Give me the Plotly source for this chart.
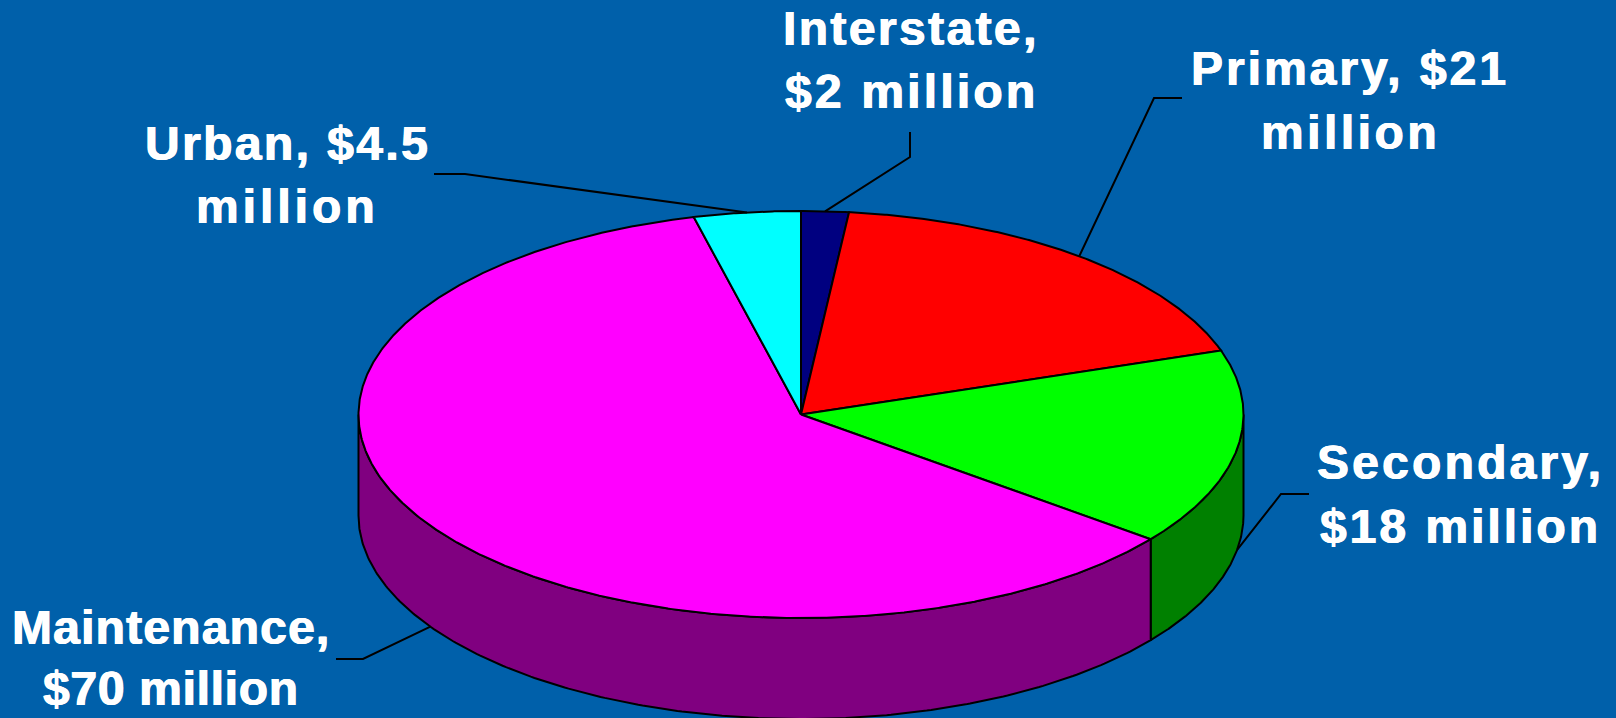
import numpy as np
import plotly.graph_objects as go

# ---- data ----
categories = ["Interstate", "Primary", "Secondary", "Maintenance", "Urban"]
values = [2, 21, 18, 70, 4.5]
label_lines = [
    ["Interstate,", "$2 million"],
    ["Primary, $21", "million"],
    ["Secondary,", "$18 million"],
    ["Maintenance,", "$70 million"],
    ["Urban, $4.5", "million"],
]

# ---- styles ----
top_colors = ["#000080", "#FF0000", "#00FF00", "#FF00FF", "#00FFFF"]
side_colors = ["#000040", "#800000", "#008000", "#800080", "#008080"]
BG = "#0060AA"
CX, CY, RX, RY, DEPTH = 801.0, 414.5, 442.5, 203.5, 101.0
FONT_SIZE = 48
LINE_W = 2.0
letter_spacing = [(2.4, 3.2), (3.0, 3.5), (3.2, 3.0), (1.2, 0.7), (2.4, 4.0)]

# ---- layout of labels (page pixels) ----
label_cx = [911, 1350, 1460, 171, 287]
label_base = [(45, 108), (85, 149), (479, 543), (644, 705), (160, 223)]
elbows = [
    [(910, 132), (910, 157)],
    [(1182, 98), (1154, 98)],
    [(1309, 494), (1281, 494)],
    [(336, 659), (363, 659)],
    [(434, 174), (465, 174)],
]
anchor_on_bottom = [False, False, True, True, False]


def pt(theta, dz=0.0):
    return CX + RX * np.sin(theta), CY - RY * np.cos(theta) + dz


total = sum(values)
edges = np.concatenate([[0.0], np.cumsum(values)]) / total * 2 * np.pi
fig = go.Figure()


def poly(xs, ys, fill):
    fig.add_trace(go.Scatter(x=xs, y=ys, mode="lines", fill="toself", fillcolor=fill,
                             line=dict(color="black", width=LINE_W), hoverinfo="skip",
                             showlegend=False))


# side walls (only the front half of the rim is visible)
for i, c in enumerate(categories):
    a, b = max(edges[i], np.pi / 2), min(edges[i + 1], 3 * np.pi / 2)
    if b <= a:
        continue
    t = np.linspace(a, b, 240)
    x1, y1 = pt(t)
    x2, y2 = pt(t[::-1], DEPTH)
    poly(np.r_[x1, x2, x1[0]], np.r_[y1, y2, y1[0]], side_colors[i])

# top slices
for i, c in enumerate(categories):
    t = np.linspace(edges[i], edges[i + 1], max(8, int(values[i] * 12)))
    x, y = pt(t)
    poly(np.r_[CX, x, CX], np.r_[CY, y, CY], top_colors[i])

# leader lines, anchored at each slice's middle angle
for i, c in enumerate(categories):
    mid = (edges[i] + edges[i + 1]) / 2
    ax, ay = pt(mid, DEPTH if anchor_on_bottom[i] else 0.0)
    xs = [p[0] for p in elbows[i]] + [ax]
    ys = [p[1] for p in elbows[i]] + [ay]
    fig.add_trace(go.Scatter(x=xs, y=ys, mode="lines", line=dict(color="black", width=LINE_W),
                             hoverinfo="skip", showlegend=False))

# labels
annotations = []
for i, lines in enumerate(label_lines):
    for line, base, sp in zip(lines, label_base[i], letter_spacing[i]):
        annotations.append(dict(
            x=label_cx[i], y=base - 0.35 * FONT_SIZE, xref="x", yref="y",
            text=f'<span style="letter-spacing:{sp}px">{line}</span>',
            showarrow=False, xanchor="center", yanchor="middle",
            font=dict(family="Liberation Sans", size=FONT_SIZE, color="white", weight="bold",
                      shadow="0.6px 0 0 white, -0.6px 0 0 white")))

fig.update_layout(
    width=1616, height=718, margin=dict(l=0, r=0, t=0, b=0),
    paper_bgcolor=BG, plot_bgcolor=BG, showlegend=False, annotations=annotations,
    xaxis=dict(range=[0, 1616], visible=False, fixedrange=True),
    yaxis=dict(range=[718, 0], visible=False, fixedrange=True),
)
fig.write_html("out.html", config=dict(displayModeBar=False),
               post_script="document.body.style.margin='0';document.documentElement.style.overflow='hidden';")
